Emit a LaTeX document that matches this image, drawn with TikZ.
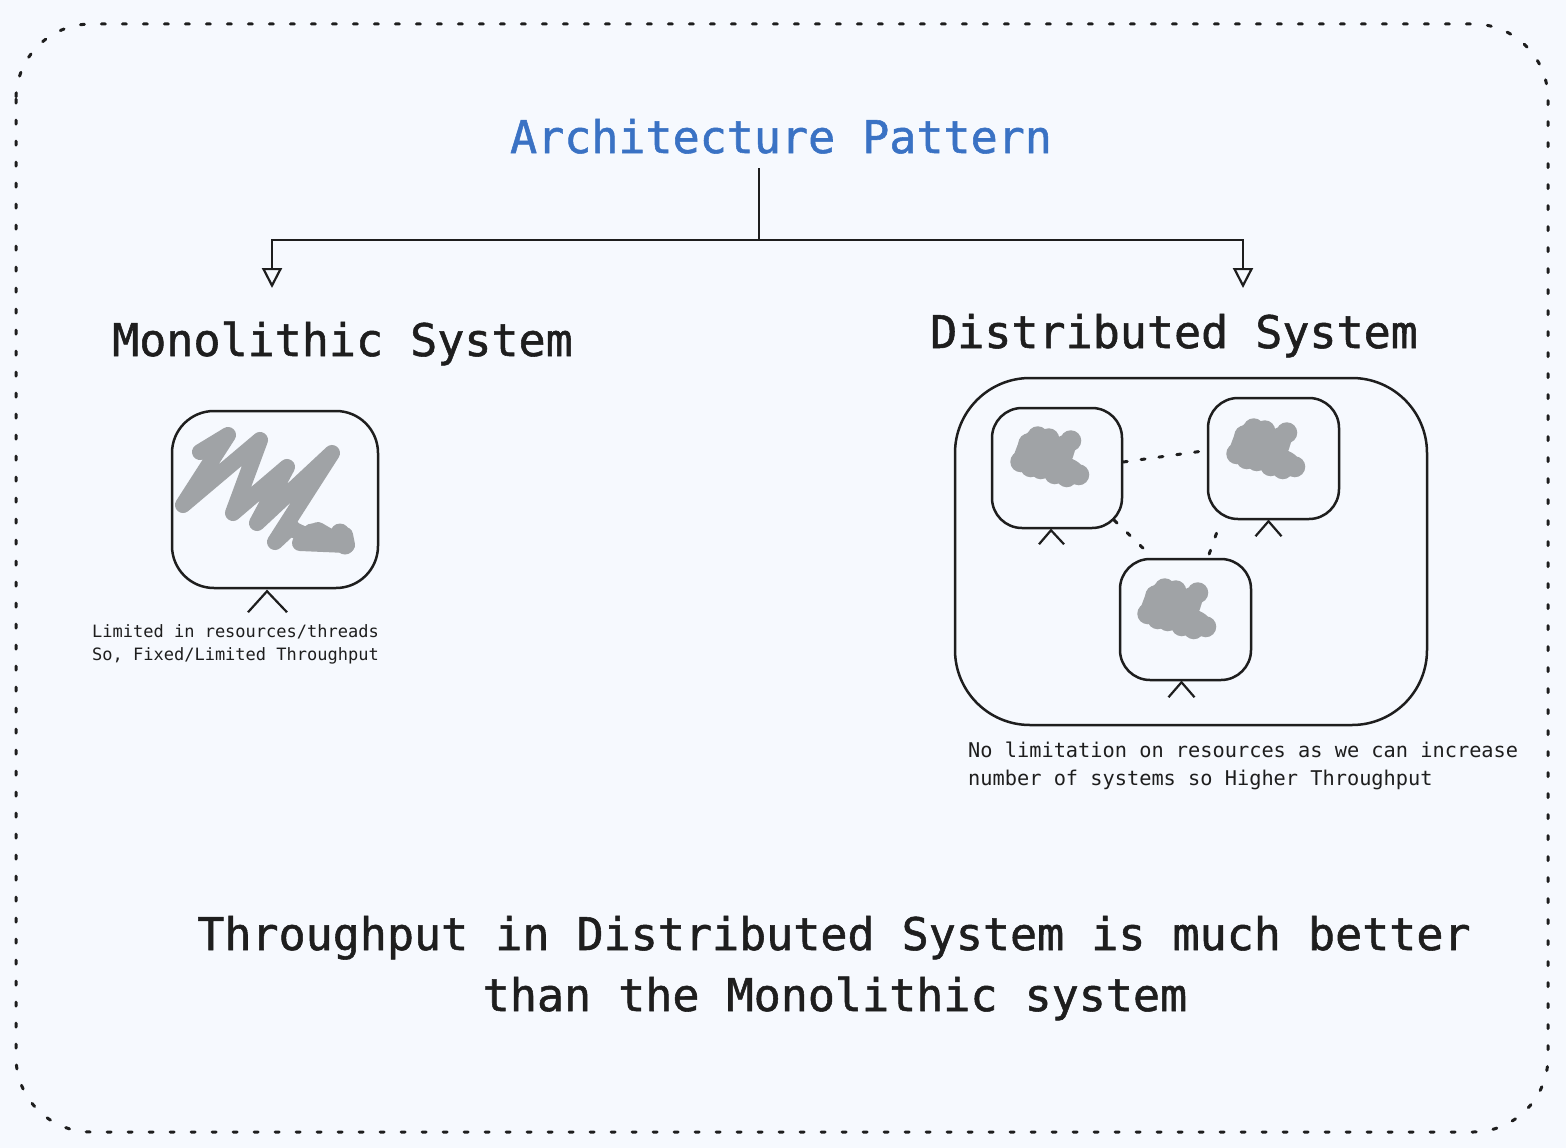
\documentclass[tikz,border=0pt]{standalone}
\usepackage{fontspec}
\newfontfamily\hand{DejaVu Sans Mono}
\newfontfamily\handbold[FakeBold=1.2]{DejaVu Sans Mono}
\usetikzlibrary{arrows.meta,calc}
\definecolor{bgc}{HTML}{F6F9FE}
\definecolor{ink}{HTML}{1E1E1E}
\definecolor{titleblue}{HTML}{3A72C4}
\definecolor{blobc}{HTML}{A0A3A6}
\tikzset{
  txt/.style={inner sep=0pt, text=ink, font=\hand},
  big/.style={txt, font=\handbold\fontsize{45}{54}\selectfont},
  smallL/.style={txt, font=\hand\fontsize{17}{23}\selectfont},
  smallR/.style={txt, font=\hand\fontsize{20.3}{28}\selectfont},
  sysbox/.style={draw=ink, line width=2.5pt, inner sep=0pt},
  conn/.style={draw=ink, line width=2.2pt},
  caret/.style={draw=ink, line width=2.2pt, line join=miter},
  dotline/.style={draw=ink, line width=3pt, line cap=round, dash pattern=on 4pt off 14pt},
  blob/.pic={\path[fill=blobc, draw=blobc, line width=17pt, line join=round, line cap=round]
     (10,34) -- (16,18) -- (24,11) -- (36,13) -- (42,22) -- (58,15) -- (54,28) -- (50,36)
     -- (62,42) -- (67,47) -- (56,49) -- (44,46) -- (32,40) -- (20,38) -- cycle;
     \foreach \p in {(10,35),(18,17),(27,10),(38,12),(60,14),(68,48),(56,50),(44,47),(30,42),(20,40)}
       {\fill[blobc] \p circle[radius=10.5pt];}}
}
\begin{document}
\begin{tikzpicture}[x=1pt,y=-1pt]
\useasboundingbox (0,0) rectangle (1566,1148);
\fill[bgc] (0,0) rectangle (1566,1148);
% outer dotted frame
\draw[ink, line width=3pt, line cap=round, dash pattern=on 4pt off 17pt, rounded corners=75pt]
  (16,24) rectangle (1548,1132);

% title
\node[big, text=titleblue, anchor=base] (title) at (781,153) {Architecture Pattern};
\coordinate (stem) at (759,168);
\coordinate (split) at (759,240);
\coordinate (tipL) at (272,288);
\coordinate (tipR) at (1243,288);
\draw[conn, -{Triangle[open, length=20pt, width=20pt, line width=2.2pt]}] (stem) -- (split) -| (tipL);
\draw[conn, -{Triangle[open, length=20pt, width=20pt, line width=2.2pt]}] (split) -| (tipR);

% headings
\node[big, anchor=base west] (monoh) at (112,356) {Monolithic System};
\node[big, anchor=base west] (disth) at (930,348) {Distributed System};

% monolithic box
\node[sysbox, minimum width=206pt, minimum height=177pt, rounded corners=42pt] (mono) at (275,499.5) {};
\draw[blobc, line width=16pt, line cap=round, line join=round]
  (200,452) -- (228,435) -- (183,505) -- (260,440) -- (233,513) -- (287,467) -- (257,523)
  -- (332,453) -- (275,542) -- (290,528) -- (305,535) -- (318,530) -- (330,537) -- (345,535) -- (347,545) -- (300,543);
\foreach \p in {(290,527),(312,533),(340,533),(345,545)} {\fill[blobc] \p circle[radius=9.5pt];}
\draw[caret] ($(mono.south)+(-27,23)$) -- ($(mono.south)+(-8,2)$) -- ($(mono.south)+(12,23)$);
\node[smallL, anchor=base west] (monoc1) at (92,637) {Limited in resources/threads};
\node[smallL, anchor=base west] (monoc2) at (92,660) {So, Fixed/Limited Throughput};

% distributed system
\node[sysbox, minimum width=472pt, minimum height=347pt, rounded corners=75pt] (dist) at (1191,551.5) {};
\node[sysbox, minimum width=130pt, minimum height=120pt, rounded corners=30pt] (sA) at (1057,468) {};
\node[sysbox, minimum width=131pt, minimum height=121pt, rounded corners=30pt] (sB) at (1273.5,458.5) {};
\node[sysbox, minimum width=131pt, minimum height=121pt, rounded corners=30pt] (sC) at (1185.5,619.5) {};
\pic at ($(sA.north west)+(20,20)$) {blob};
\pic at ($(sB.north west)+(20,22)$) {blob};
\pic at ($(sC.north west)+(19,21)$) {blob};
\draw[caret] ($(sA.south)+(-18,15)$) -- ($(sA.south)+(-6,1)$) -- ($(sA.south)+(7,15)$);
\draw[caret] ($(sB.south)+(-18,16)$) -- ($(sB.south)+(-5,1)$) -- ($(sB.south)+(8,16)$);
\draw[caret] ($(sC.south)+(-17,16)$) -- ($(sC.south)+(-4,1)$) -- ($(sC.south)+(9,16)$);
\draw[dotline] ($(sA.east)+(0,-6)$) -- ($(sB.west)+(0,-8)$);
\draw[dotline] ($(sA.south east)+(-9,-9)$) -- ($(sC.north west)+(28,-6)$);
\draw[dotline] ($(sB.south)+(-57,13)$) -- ($(sC.north)+(22,1)$);
\node[smallR, anchor=base west] (distc1) at (968,757) {No limitation on resources as we can increase};
\node[smallR, anchor=base west] (distc2) at (968,785) {number of systems so Higher Throughput};

% conclusion
\node[big, anchor=base] (concl1) at (834,950) {Throughput in Distributed System is much better};
\node[big, anchor=base] (concl2) at (835,1011) {than the Monolithic system};
\end{tikzpicture}
\end{document}
